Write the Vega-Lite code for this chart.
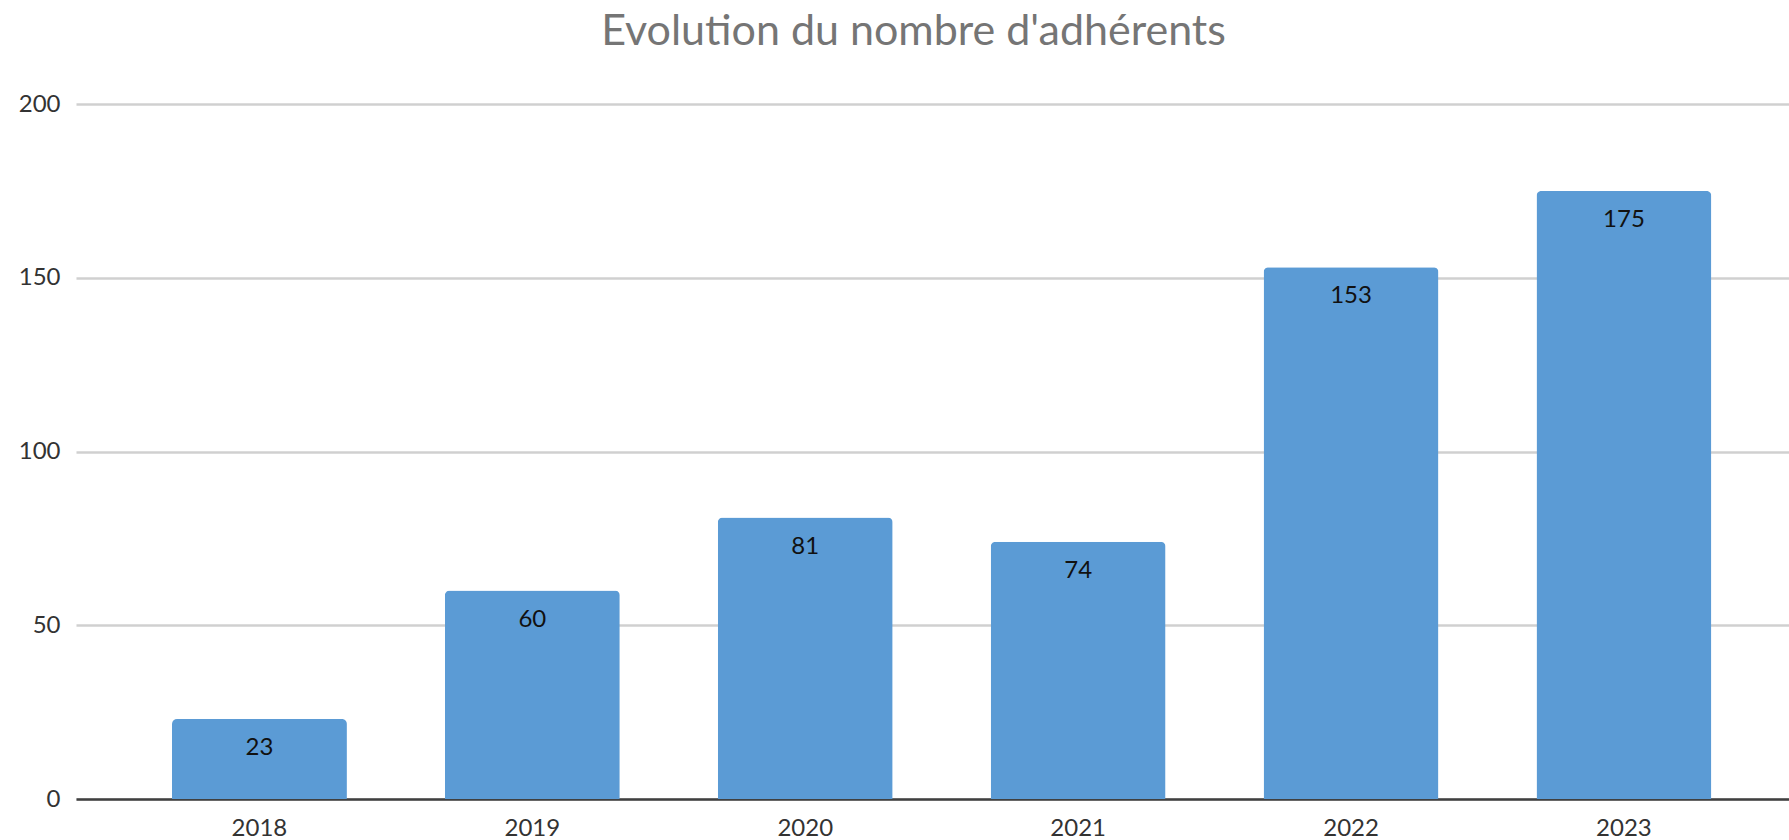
{
  "$schema": "https://vega.github.io/schema/vega-lite/v6.json",
  "autosize": {"type": "none"},
  "width": 1713,
  "height": 695,
  "padding": {"left": 76, "top": 104, "right": 0, "bottom": 41},
  "background": "white",
  "config": {"view": {"stroke": null}, "font": "Lato"},
  "title": {
    "text": "Evolution du nombre d'adhérents",
    "font": "Lato",
    "fontSize": 43,
    "fontWeight": "normal",
    "color": "#757575",
    "anchor": "middle",
    "frame": "group",
    "dx": -19,
    "offset": 38
  },
  "data": {
    "values": [
      {"annee": "2018", "adherents": 23},
      {"annee": "2019", "adherents": 60},
      {"annee": "2020", "adherents": 81},
      {"annee": "2021", "adherents": 74},
      {"annee": "2022", "adherents": 153},
      {"annee": "2023", "adherents": 175}
    ]
  },
  "encoding": {
    "x": {
      "field": "annee",
      "type": "nominal",
      "sort": null,
      "scale": {"paddingInner": 0.359, "paddingOuter": 0.318, "align": 0.553},
      "axis": {
        "title": null,
        "labelAngle": 0,
        "labelFont": "Lato",
        "labelFontSize": 24,
        "labelColor": "#333333",
        "labelPadding": 17,
        "ticks": false,
        "domainColor": "#404040",
        "domainWidth": 2.5,
        "grid": false
      }
    },
    "y": {
      "field": "adherents",
      "type": "quantitative",
      "scale": {"domain": [0, 200], "nice": false},
      "axis": {
        "title": null,
        "values": [0, 50, 100, 150, 200],
        "labelFont": "Lato",
        "labelFontSize": 24,
        "labelColor": "#333333",
        "labelPadding": 16,
        "ticks": false,
        "domain": false,
        "gridColor": "#d0d0d0",
        "gridWidth": 2.5
      }
    }
  },
  "layer": [
    {
      "mark": {"type": "bar", "color": "#5b9bd5", "cornerRadiusTopLeft": 5, "cornerRadiusTopRight": 5}
    },
    {
      "mark": {"type": "text", "baseline": "middle", "dy": 29, "fontSize": 24, "font": "Lato", "color": "#111111"},
      "encoding": {"text": {"field": "adherents", "type": "quantitative"}}
    }
  ]
}
